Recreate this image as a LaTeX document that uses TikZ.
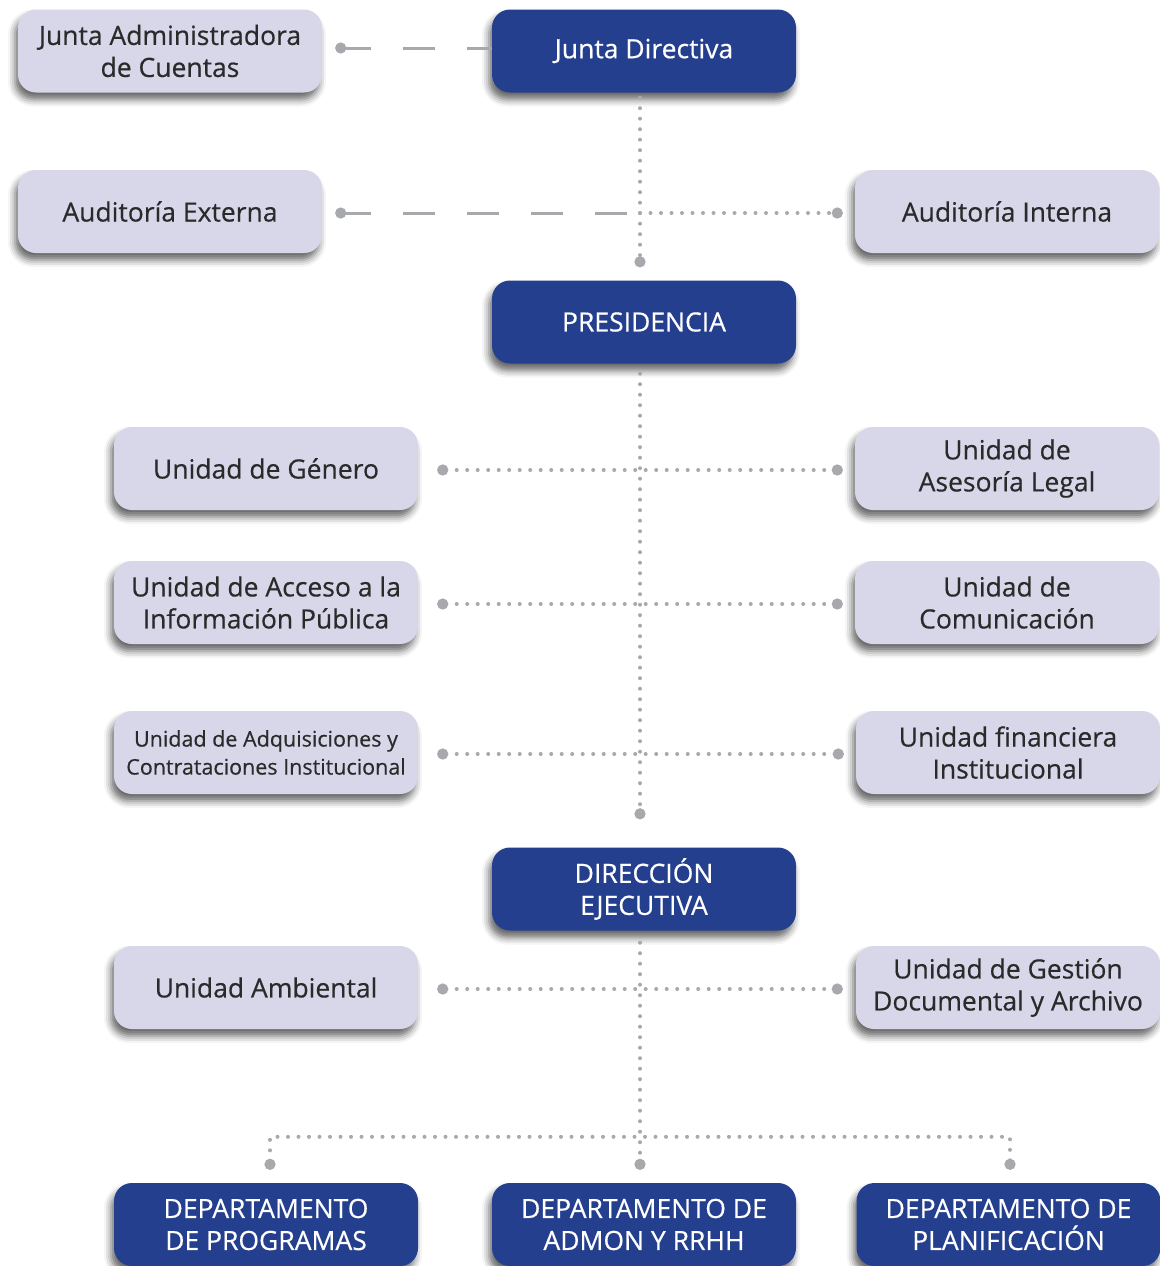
\documentclass[tikz,border=0pt]{standalone}
\usepackage{fontspec}
\setmainfont{Open Sans}[FakeBold=0.45]
\usetikzlibrary{positioning}
\usetikzlibrary{shadows,shadows.blur}
\usetikzlibrary{arrows.meta}

\definecolor{cajaclara}{HTML}{D7D7E9}
\definecolor{azulmando}{HTML}{253F8F}
\definecolor{gristrazo}{HTML}{A8A9AD}
\definecolor{textogris}{HTML}{2A2A2A}

\tikzset{
  unidad/.style={fill=cajaclara, rounded corners=18pt, minimum width=304pt,
    minimum height=83pt, align=center, text=textogris,
    font=\fontsize{26.5}{32}\selectfont,
    blur shadow={shadow xshift=-3pt, shadow yshift=-7pt, shadow blur radius=7pt, shadow opacity=60}},
  mando/.style={unidad, fill=azulmando, text=white},
  punteado/.style={draw=gristrazo, line width=4pt, line cap=round, dash pattern=on 0pt off 10.5pt},
  guiones/.style={draw=gristrazo, line width=3pt, dash pattern=on 32pt off 32pt, dash phase=6pt},
  bola/.tip={Circle[length=11pt, line cap=butt]}
}

\begin{document}
\begin{tikzpicture}[x=1pt, y=-1pt]
                \useasboundingbox (0,0) rectangle (1159,1266);

                % Nodes
                \node at (170,51) (jac) [unidad] {Junta Administradora\\de Cuentas};
                \node at (644,51) (jd) [mando] {Junta Directiva};
                \node at (170,211.5) (ae) [unidad] {Auditoría Externa};
                \node at (1007,211.5) (ai) [unidad] {Auditoría Interna};
                \node at (644,322) (pres) [mando] {PRESIDENCIA};
                \node at (266,468.5) (genero) [unidad] {Unidad de Género};
                \node at (1007,468.5) (legal) [unidad] {Unidad de\\Asesoría Legal};
                \node at (266,602.5) (acceso) [unidad] {Unidad de Acceso a la\\Información Pública};
                \node at (1007,602.5) (comunic) [unidad] {Unidad de\\Comunicación};
                \node at (266,752.5) (adquis) [unidad, font=\fontsize{21.5}{28}\selectfont] {Unidad de Adquisiciones y\\Contrataciones Institucional};
                \node at (1008,752.5) (financ) [unidad] {Unidad financiera\\Institucional};
                \node at (644,889) (direc) [mando] {DIRECCIÓN\\EJECUTIVA};
                \node at (266,987.5) (ambiental) [unidad] {Unidad Ambiental};
                \node at (1008,987.5) (gestion) [unidad] {Unidad de Gestión\\Documental y Archivo};
                \node at (266,1224.5) (dprog) [mando] {DEPARTAMENTO\\DE PROGRAMAS};
                \node at (644,1224.5) (dadmon) [mando] {DEPARTAMENTO DE\\ADMON Y RRHH};
                \node at (1008.5,1224.5) (dplan) [mando] {DEPARTAMENTO DE\\PLANIFICACIÓN};

                \coordinate (cruce) at ([xshift=-4pt]jd.south |- ae.east);
                \coordinate (bus) at ([yshift=46pt]dadmon.north);

                % Arrows
                \draw[guiones, bola-] ([xshift=13pt,yshift=3pt]jac.east) -- ([yshift=3pt]jd.west);
                \draw[guiones, bola-] ([xshift=13pt,yshift=-1.5pt]ae.east) -- ([yshift=-1.5pt]cruce);
                \draw[punteado, -bola] ([yshift=-1.5pt]cruce) -- ([xshift=-12pt,yshift=-1.5pt]ai.west);
                \draw[punteado, -bola] ([xshift=-4pt,yshift=-5pt]jd.south) -- ([xshift=-4pt,yshift=13pt]pres.north);
                \draw[punteado, -bola] ([xshift=-4pt,yshift=-10pt]pres.south) -- ([xshift=-4pt,yshift=28pt]direc.north);
                \draw[punteado, bola-bola] ([xshift=19pt,yshift=-1.5pt]genero.east) -- ([xshift=-12pt,yshift=-1.5pt]legal.west);
                \draw[punteado, bola-bola] ([xshift=19pt,yshift=-1.5pt]acceso.east) -- ([xshift=-12pt,yshift=-1.5pt]comunic.west);
                \draw[punteado, bola-bola] ([xshift=19pt,yshift=-1.5pt]adquis.east) -- ([xshift=-12pt,yshift=-1.5pt]financ.west);
                \draw[punteado, -bola] ([xshift=-4pt,yshift=-12pt]direc.south) -- ([xshift=-4pt,yshift=13pt]dadmon.north);
                \draw[punteado, bola-bola] ([xshift=19pt,yshift=-1.5pt]ambiental.east) -- ([xshift=-13pt,yshift=-1.5pt]gestion.west);
                \draw[punteado, bola-bola] ([xshift=4pt,yshift=13pt]dprog.north) -- ([xshift=4pt]dprog.north |- bus)
                    -- ([xshift=1.5pt]dplan.north |- bus) -- ([xshift=1.5pt,yshift=13pt]dplan.north);

            \end{tikzpicture}
\end{document}
